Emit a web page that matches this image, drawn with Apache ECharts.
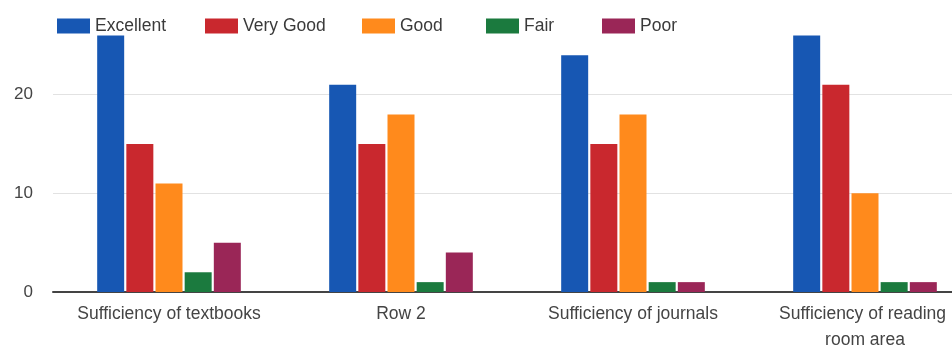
<!DOCTYPE html>
<html>
<head>
<meta charset="utf-8">
<script src="https://cdn.jsdelivr.net/npm/echarts@6/dist/echarts.min.js"></script>
<style>
  html, body { margin: 0; padding: 0; background: #fff; }
  #main { width: 952px; height: 349px; }
</style>
</head>
<body>
<div id="main"></div>
<script>
var categories = ['Sufficiency of textbooks', 'Row 2', 'Sufficiency of journals', 'Sufficiency of reading room area'];
var seriesNames = ['Excellent', 'Very Good', 'Good', 'Fair', 'Poor'];
var excellent = [26, 21, 24, 26];
var veryGood = [15, 15, 15, 21];
var good = [11, 18, 18, 10];
var fair = [2, 1, 1, 1];
var poor = [5, 4, 1, 1];
var colors = ['#1757b3', '#c9282e', '#ff8a1c', '#1b7a3e', '#9a2657'];

var values = [excellent, veryGood, good, fair, poor];
// legend items sit at uneven spots in the original
var legendLeft = [52, 200, 357, 481, 597];

var myChart = echarts.init(document.getElementById('main'));

var option = {
    animation: false,
    color: colors,
    textStyle: { fontFamily: 'Liberation Sans, Arial, sans-serif' },
    legend: seriesNames.map(function (name, i) {
        return {
            left: legendLeft[i],
            top: 12,
            itemWidth: 33,
            itemHeight: 15,
            itemGap: 0,
            icon: 'rect',
            textStyle: { fontSize: 17.5, color: '#3a3a3a' },
            data: [name]
        };
    }),
    grid: {
        left: 53,
        right: -29,
        top: -4,
        bottom: 57,
        outerBoundsMode: 'none'
    },
    xAxis: {
        type: 'category',
        data: categories,
        axisTick: { show: false },
        axisLine: { lineStyle: { color: '#444', width: 2 } },
        axisLabel: {
            color: '#444',
            fontSize: 17.5,
            margin: 9,
            width: 200,
            overflow: 'break',
            lineHeight: 26,
            interval: 0
        }
    },
    yAxis: {
        type: 'value',
        min: 0,
        max: 30,
        interval: 10,
        axisLine: { show: false },
        axisTick: { show: false },
        splitLine: { lineStyle: { color: '#e2e2e2', width: 1 } },
        axisLabel: {
            color: '#444',
            fontSize: 17,
            margin: 20,
            formatter: function (v) { return v >= 30 ? '' : v; }
        }
    },
    series: seriesNames.map(function (name, i) {
        return {
            name: name,
            type: 'bar',
            barWidth: 27,
            barGap: '8%',
            data: values[i]
        };
    })
};

myChart.setOption(option);
</script>
</body>
</html>
